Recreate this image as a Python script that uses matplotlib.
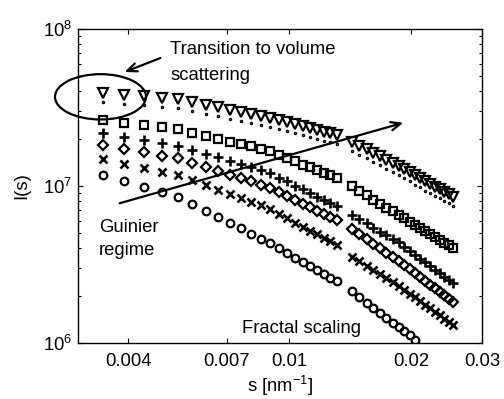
import numpy as np
import matplotlib
matplotlib.use("Agg")
import matplotlib.pyplot as plt
from matplotlib.patches import Ellipse
from matplotlib.ticker import FixedLocator, FixedFormatter, NullLocator, LogLocator

plt.rcParams['font.family'] = ['Liberation Sans', 'DejaVu Sans']
plt.rcParams['mathtext.fontset'] = 'custom'
plt.rcParams['mathtext.rm'] = 'Liberation Sans'
plt.rcParams['mathtext.it'] = 'Liberation Sans:italic'

# --- scattering vector s [nm^-1], two detector segments ---
s_left = [0.00345, 0.00391, 0.00437, 0.00483, 0.00529, 0.00575, 0.00621, 0.00667,
          0.00713, 0.00759, 0.00805, 0.00851, 0.00897, 0.00943, 0.00989, 0.01035,
          0.01081, 0.01127, 0.01173, 0.01219, 0.01265, 0.01311]
s_right = [0.0143, 0.01492, 0.01554, 0.01616, 0.01678, 0.0174, 0.01802, 0.01864,
           0.01926, 0.01988, 0.0205, 0.02112, 0.02174, 0.02236, 0.02298, 0.0236,
           0.02422, 0.02484, 0.02546]
s = s_left + s_right

# --- intensities, in units of 1e6 ---
I_tri = [39.1, 38.0, 37.2, 36.3, 35.6, 34.2, 32.9, 31.8, 30.7, 29.8, 28.9, 28.1,
         27.3, 26.4, 25.6, 24.8, 24.1, 23.4, 22.8, 22.2, 21.7, 21.2,
         19.2, 18.1, 17.1, 16.3, 15.5, 14.7, 14.1, 13.4, 12.8, 12.2, 11.7, 11.2,
         10.7, 10.3, 9.91, 9.53, 9.18, 8.85, 8.53]
I_dot = [34.2, 33.3, 32.6, 31.8, 31.2, 29.9, 28.8, 27.8, 26.9, 26.1, 25.3, 24.6,
         23.9, 23.1, 22.4, 21.7, 21.1, 20.5, 20.0, 19.4, 19.0, 18.6,
         16.8, 15.8, 15.0, 14.3, 13.6, 12.9, 12.3, 11.7, 11.2, 10.7, 10.2, 9.8,
         9.36, 9.01, 8.67, 8.34, 8.03, 7.74, 7.46]
I_sq = [26.3, 25.3, 24.4, 23.7, 23.0, 21.9, 20.9, 20.0, 19.2, 18.5, 17.9, 17.3,
        16.7, 15.8, 15.1, 14.4, 13.7, 13.2, 12.6, 12.1, 11.7, 11.2,
        9.93, 9.29, 8.71, 8.20, 7.73, 7.29, 6.90, 6.56, 6.22, 5.93, 5.65, 5.38,
        5.15, 4.92, 4.72, 4.53, 4.35, 4.18, 4.02]
I_plus = [21.7, 20.5, 19.5, 18.7, 18.0, 16.9, 16.0, 15.2, 14.5, 13.8, 13.2, 12.7,
          12.1, 11.3, 10.7, 10.0, 9.51, 9.02, 8.55, 8.15, 7.76, 7.41,
          6.55, 6.14, 5.77, 5.43, 5.13, 4.85, 4.60, 4.38, 4.11, 3.87, 3.65, 3.44,
          3.26, 3.08, 2.92, 2.78, 2.64, 2.52, 2.40]
I_dia = [18.2, 17.2, 16.4, 15.6, 15.0, 14.0, 13.2, 12.4, 11.8, 11.2, 10.7, 10.2,
         9.73, 9.14, 8.63, 8.15, 7.73, 7.35, 6.98, 6.67, 6.37, 6.10,
         5.31, 4.93, 4.59, 4.30, 4.02, 3.77, 3.55, 3.34, 3.14, 2.95, 2.78, 2.62,
         2.48, 2.35, 2.23, 2.11, 2.01, 1.91, 1.82]
I_x = [14.8, 13.8, 13.0, 12.3, 11.7, 10.9, 10.1, 9.44, 8.87, 8.36, 7.91, 7.52,
       7.10, 6.62, 6.21, 5.83, 5.50, 5.20, 4.92, 4.67, 4.44, 4.23,
       3.55, 3.31, 3.10, 2.91, 2.74, 2.58, 2.44, 2.31, 2.18, 2.06, 1.95, 1.84,
       1.74, 1.66, 1.57, 1.50, 1.43, 1.36, 1.30]
I_circ = [11.7, 10.7, 9.84, 9.14, 8.55, 7.67, 6.95, 6.34, 5.82, 5.37, 4.98, 4.63,
          4.32, 4.01, 3.74, 3.50, 3.28, 3.08, 2.91, 2.75, 2.60, 2.47,
          2.13, 1.96, 1.81, 1.67, 1.56, 1.45, 1.35, 1.27, 1.19, 1.12, 1.05]

xticks = [0.004, 0.007, 0.01, 0.02, 0.03]
xticklabels = ["0.004", "0.007", "0.01", "0.02", "0.03"]

fig = plt.figure(figsize=(5.04, 3.99), dpi=100)
ax = fig.add_axes([78 / 504, 56 / 399, 404 / 504, 314 / 399])

scale = 1e6
mk = dict(linestyle="none", color="black", fillstyle="none")
ax.plot(s[:len(I_circ)], np.array(I_circ) * scale, marker="o", ms=5.5, mew=1.6, **mk)
ax.plot(s, np.array(I_x) * scale, marker="x", ms=5.5, mew=1.9, **mk)
ax.plot(s, np.array(I_dia) * scale, marker="D", ms=5.2, mew=1.6, **mk)
ax.plot(s, np.array(I_plus) * scale, marker="+", ms=6.5, mew=1.9, **mk)
ax.plot(s, np.array(I_sq) * scale, marker="s", ms=5.5, mew=1.6, **mk)
ax.plot(s, np.array(I_dot) * scale, marker=".", ms=3, **mk)
ax.plot(s, np.array(I_tri) * scale, marker="v", ms=7, mew=1.6, **mk)

ax.set_xscale("log")
ax.set_yscale("log")
ax.set_xlim(0.003, 0.03)
ax.set_ylim(1e6, 1e8)
ax.xaxis.set_major_locator(FixedLocator(xticks))
ax.xaxis.set_major_formatter(FixedFormatter(xticklabels))
ax.xaxis.set_minor_locator(NullLocator())
ax.yaxis.set_major_locator(LogLocator(base=10))
ax.yaxis.set_minor_locator(LogLocator(base=10, subs=np.arange(2, 10)))

ax.tick_params(which="both", direction="in", top=True, right=True, width=0.8,
               labelsize=13.3, colors="black")
ax.tick_params(which="major", length=3.5)
ax.tick_params(which="minor", length=2)
ax.tick_params(axis="x", pad=7)
ax.tick_params(axis="y", pad=4)
for sp in ax.spines.values():
    sp.set_linewidth(1.0)

ax.set_xlabel("s [nm$^{-1}$]", fontsize=13.3, labelpad=3)
ax.set_ylabel("I(s)", fontsize=13.3, labelpad=9)

# ellipse around first points
ell = Ellipse((0.0557, 0.784), 0.2252, 0.1443, transform=ax.transAxes,
              fill=False, edgecolor="black", linewidth=1.6, clip_on=False)
ax.add_patch(ell)

def fx(px):
    return px / 504

def fy(py):
    return 1 - py / 399

arrow = dict(arrowstyle="->,head_length=0.7,head_width=0.3", color="black", lw=1.6)
ax.annotate("", xy=(fx(122), fy(73)), xytext=(fx(163), fy(57)),
            xycoords="figure fraction", textcoords="figure fraction", arrowprops=arrow)
ax.annotate("", xy=(fx(406), fy(122)), xytext=(fx(117), fy(204)),
            xycoords="figure fraction", textcoords="figure fraction", arrowprops=arrow)

fig.text(fx(170.5), fy(54.3), "Transition to volume", fontsize=13.3, va="baseline")
fig.text(fx(170.5), fy(80), "scattering", fontsize=13.3, va="baseline")
fig.text(fx(99), fy(231.7), "Guinier", fontsize=13.3, va="baseline")
fig.text(fx(99), fy(255), "regime", fontsize=13.3, va="baseline")
fig.text(fx(241.5), fy(333.3), "Fractal scaling", fontsize=13.3, va="baseline")

fig.savefig("out.png", dpi=100)
